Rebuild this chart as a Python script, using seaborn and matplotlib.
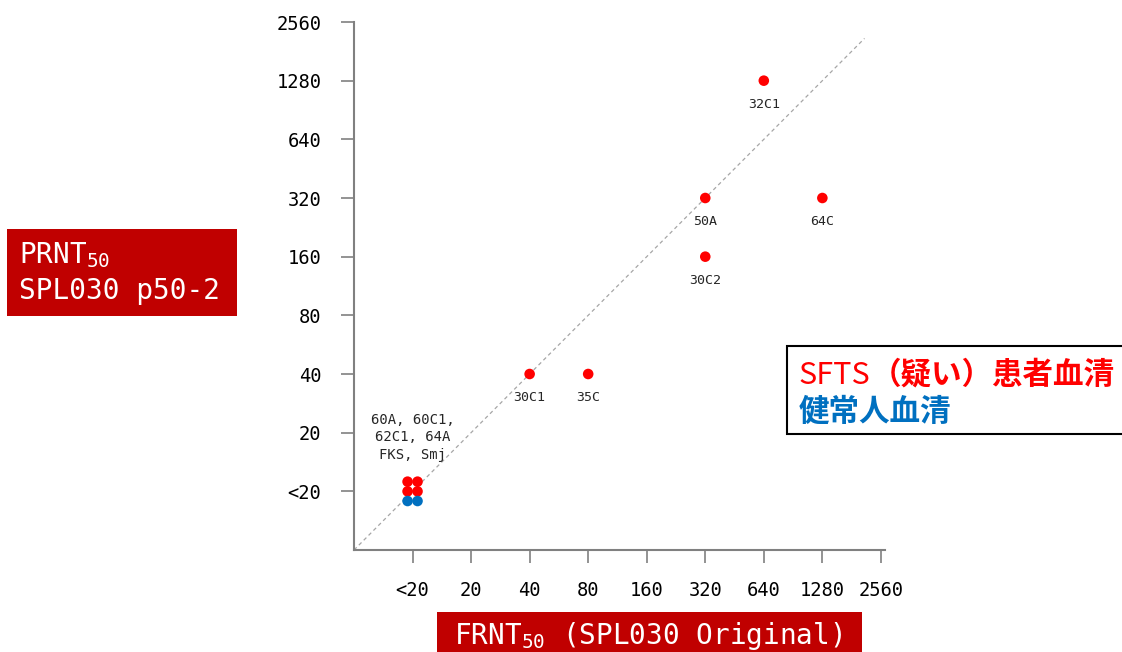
import numpy as np
import pandas as pd
import matplotlib.pyplot as plt
import seaborn as sns
from matplotlib.patches import Rectangle

# titer levels (index on log2 axis)
levels = ["<20", "20", "40", "80", "160", "320", "640", "1280", "2560"]

samples = ["32C1", "64C", "50A", "30C2", "30C1", "35C",
           "60A", "60C1", "62C1", "64A", "FKS", "Smj"]
frnt = ["640", "1280", "320", "320", "40", "80",
        "<20", "<20", "<20", "<20", "<20", "<20"]
prnt = ["1280", "320", "320", "160", "40", "40",
        "<20", "<20", "<20", "<20", "<20", "<20"]
group = ["patient"] * 10 + ["healthy"] * 2

cluster_label = "60A, 60C1,\n62C1, 64A\nFKS, Smj"
legend_lines = [("SFTS", "（疑い）患者血清"), ("", "健常人血清")]
red = "#FF0000"
blue = "#0070C0"
box_red = "#C00000"
gray = "#808080"

sns.set_style("white")
plt.rcParams['font.family'] = ['DejaVu Sans Mono']

df = pd.DataFrame({"sample": samples, "frnt": frnt, "prnt": prnt, "group": group})
df["x"] = df["frnt"].map(levels.index).astype(float)
df["y"] = df["prnt"].map(levels.index).astype(float)

# spread overlapping points into a small 2-column grid
for (gx, gy), sub in df.groupby(["x", "y"]):
    n = len(sub)
    if n < 2:
        continue
    nrows = int(np.ceil(n / 2))
    for k, idx in enumerate(sub.index):
        r, c = divmod(k, 2)
        df.loc[idx, "x"] = gx + (c - 0.5) * 0.17
        df.loc[idx, "y"] = gy + ((nrows - 1) / 2 - r) * 0.165

W, H = 1122, 652
fig = plt.figure(figsize=(W / 100, H / 100), dpi=100)


def fx(x):
    return x / W


def fy(y):
    return 1 - y / H


ax = fig.add_axes([fx(354), fy(550), fx(885) - fx(354), fy(22) - fy(550)])

ax.plot([-1, 7.72], [-1, 7.72], ls=(0, (3, 2.5)), color="#A6A6A6", lw=0.9, zorder=1)

sns.scatterplot(data=df, x="x", y="y", hue="group",
                palette={"patient": red, "healthy": blue},
                s=58, linewidth=0, legend=False, ax=ax, zorder=3)

# labels below single points
single = df[df.groupby(["frnt", "prnt"])["sample"].transform("count") == 1]
for _, row in single.iterrows():
    ax.annotate(row["sample"], (row["x"], row["y"]), xytext=(0, -17),
                textcoords="offset points", ha="center", va="center", fontsize=9.5)

# label above the <20 cluster
ax.annotate(cluster_label, (0, 0.165), xytext=(0, 14), textcoords="offset points",
            ha="center", va="bottom", fontsize=10, linespacing=1.35)

ax.set_xlim(-1, 8.07)
ax.set_ylim(-1, 8)
ax.set_xticks(range(len(levels)))
ax.set_xticklabels(levels)
ax.set_yticks(range(len(levels)))
ax.set_yticklabels(levels)
ax.set_xlabel("")
ax.set_ylabel("")
sns.despine(ax=ax)
for sp in ["left", "bottom"]:
    ax.spines[sp].set_color(gray)
    ax.spines[sp].set_linewidth(1.5)
ax.tick_params(axis="both", length=9.5, width=1.2, color=gray, labelsize=13.5,
               labelcolor="black", bottom=True, left=True)
ax.tick_params(axis="x", pad=13)
ax.tick_params(axis="y", pad=14)

# y label box
fig.add_artist(Rectangle((fx(7), fy(316)), fx(237) - fx(7), fy(229) - fy(316),
                         transform=fig.transFigure, color=box_red, lw=0))
fig.text(fx(19), fy(272.5), "PRNT$_{\\mathregular{50}}$\nSPL030 p50-2", color="white",
         fontsize=20, ha="left", va="center", linespacing=1.3)

# x label box
fig.add_artist(Rectangle((fx(437), fy(660)), fx(862) - fx(437), fy(612) - fy(660),
                         transform=fig.transFigure, color=box_red, lw=0))
fig.text(fx(648), fy(636), "FRNT$_{\\mathregular{50}}$ (SPL030 Original)", color="white",
         fontsize=20, ha="center", va="center")

# legend box
fig.add_artist(Rectangle((fx(787), fy(434)), fx(1140) - fx(787), fy(346) - fy(434),
                         transform=fig.transFigure, facecolor="white",
                         edgecolor="black", lw=1.5))
jp = ["Noto Sans CJK JP", "DejaVu Sans"]
t1 = fig.text(fx(799), fy(384), legend_lines[0][0], color=red, fontsize=22,
              family=jp, ha="left", va="baseline")
fig.canvas.draw()
bb = t1.get_window_extent()
fig.text(bb.x1 / W, fy(384), legend_lines[0][1], color=red, fontsize=22,
         family=jp, fontweight="bold", ha="left", va="baseline")
fig.text(fx(799), fy(421), legend_lines[1][1], color=blue, fontsize=22,
         family=jp, fontweight="bold", ha="left", va="baseline")

fig.savefig("out.png", dpi=100)
